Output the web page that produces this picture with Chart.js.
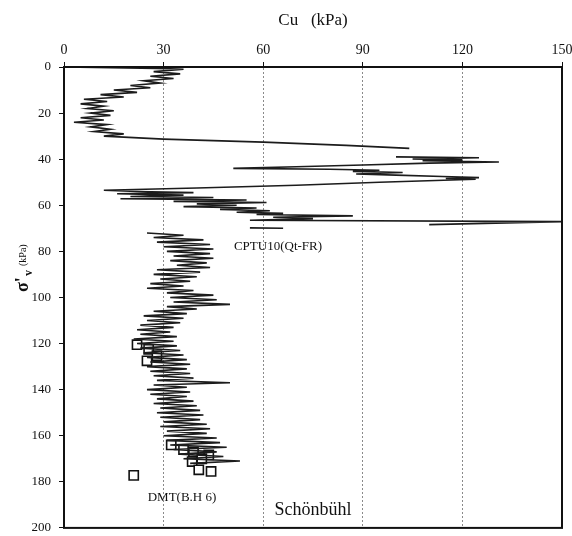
<!DOCTYPE html>
<html>
<head>
<meta charset="utf-8">
<script src="https://cdn.jsdelivr.net/npm/chart.js@4"></script>
<style>
  html, body { margin: 0; padding: 0; background: #fff; }
</style>
</head>
<body>
<canvas id="cuChart" width="572" height="536"></canvas>
<script>
const cuTicks = [0, 30, 60, 90, 120, 150];
const stressTicks = [0, 20, 40, 60, 80, 100, 120, 140, 160, 180, 200];

// CPTU10 (Qt-FR) trace; null breaks the line
const cptuDepth = [
  0, 0.6, 1, 2, 3, 4, 5, 6, 7, 8, 9, 10, 11, 12, 13, 14, 15, 16, 17, 18, 19, 20,
  21, 22, 23, 24, 25, 26, 27, 28, 29, 30, 31.3, 32.6, 34, 35.3, null,
  39, 39.4, 39.9, 40.3, 40.7, 41.2, 41.7, 42.5, 43.3, 44, 44.4, 44.8, 45.3, 45.8,
  46.4, 46.9, 47.5, 48, 48.4, 48.7, 50, 51.3, 52.5, 53.5, 54, 54.5, 55, 55.6, 56.2,
  56.6, 57.2, 57.7, 58.3, 58.8, 59.4, 60, 60.6, 61.2, 61.8, 62.4, 63, 63.5, 64, 64.6,
  65.2, 65.8, 66.5, 67.1, 68.4, null,
  69.8, 70, null,
  72, 73, 74, 75, 76, 77, 78, 79, 80, 81, 82, 83, 84, 85, 86, 87, 88, 89, 90, 91,
  92, 93, 94, 95, 96, 97, 98, 99, 100, 101, 102, 103, 104, 105, 106, 107, 108, 109,
  110, 111, 112, 113, 114, 115, 116, 117, 118, 119, 120, 121, 122, 123, 124, 125,
  126, 127, 128, 129, 130, 131, 132, 133, 134, 135, 136, 137, 138, 139, 140, 141,
  142, 143, 144, 145, 146, 147, 148, 149, 150, 151, 152, 153, 154, 155, 156, 157,
  158, 159, 160, 161, 162, 163, 164, 165, 166, 167, 168, 169, 170, 171, 172
];
const cptuCu = [
  0, 28, 36, 27, 35, 26, 33, 24, 29, 20, 26, 15, 22, 11, 18, 6, 13, 5, 12, 7, 15, 8,
  14, 5, 12, 3, 13, 8, 14, 9, 18, 12, 30, 60, 85, 104, null,
  100, 125, 105, 120, 108, 131, 110, 90, 70, 51, 80, 95, 87, 102,
  88, 100, 114, 125, 115, 124, 95, 70, 40, 12, 22, 39, 16, 36, 20,
  45, 17, 55, 33, 61, 40, 52, 36, 58, 47, 62, 52, 66, 58, 87,
  63, 75, 56, 150, 110, null,
  56, 66, null,
  25, 36, 27, 42, 28, 44, 30, 45, 31, 44, 33, 45, 32, 43, 34, 44, 28, 41, 27, 40,
  29, 38, 26, 36, 25, 39, 31, 45, 32, 46, 33, 50, 31, 40, 27, 37, 24, 36,
  25, 35, 23, 33, 22, 32, 23, 34, 21, 33, 22, 34, 23, 35, 24, 36,
  25, 37, 26, 38, 25, 37, 26, 38, 27, 39, 28, 50, 27, 37, 25, 38,
  26, 37, 28, 39, 27, 40, 29, 41, 28, 42, 29, 41, 30, 43, 29, 44,
  31, 43, 30, 46, 31, 47, 32, 49, 33, 46, 35, 48, 36, 53, 38
];

// DMT (B.H 6) points
const dmtDepth = [120.5, 122.5, 125.3, 127.5, 164, 166, 167, 168.3, 170, 171.2, 174.8, 175.5, 177.2];
const dmtCu = [22, 25.5, 28, 25, 32.3, 36, 39, 43.6, 41.5, 38.6, 40.6, 44.3, 21];

const serif = "'Liberation Serif', 'DejaVu Serif', serif";

const framePlugin = {
  id: "frameAndLabels",
  afterDraw(chart) {
    const { ctx, chartArea: a } = chart;
    ctx.save();
    ctx.strokeStyle = "#111";
    ctx.lineWidth = 2;
    ctx.strokeRect(a.left, a.top, a.right - a.left, a.bottom - a.top);

    ctx.fillStyle = "#111";
    ctx.textBaseline = "middle";
    ctx.textAlign = "center";
    ctx.font = "17px " + serif;
    ctx.fillText("Cu   (kPa)", 313, 21);

    ctx.font = "13px " + serif;
    ctx.fillText("CPTU10(Qt-FR)", 278, 247);
    ctx.fillText("DMT(B.H 6)", 182, 498);
    ctx.font = "18px " + serif;
    ctx.fillText("Schönbühl", 313, 510);

    // rotated y title: σ'v (kPa)
    ctx.translate(22, 270);
    ctx.rotate(-Math.PI / 2);
    ctx.textAlign = "left";
    ctx.textBaseline = "alphabetic";
    ctx.font = "bold 18px " + serif;
    ctx.fillText("σ'", -22, 6);
    ctx.font = "bold 12px " + serif;
    ctx.fillText("v", -6, 10);
    ctx.font = "10px " + serif;
    ctx.fillText("(kPa)", 4, 4);
    ctx.restore();
  }
};

new Chart(document.getElementById("cuChart"), {
  type: "scatter",
  data: {
    datasets: [
      {
        label: "CPTU10(Qt-FR)",
        data: cptuDepth.map((d, i) => ({ x: cptuCu[i], y: d })),
        showLine: true,
        spanGaps: false,
        borderColor: "#1c1c1c",
        borderWidth: 1.6,
        pointRadius: 0,
        tension: 0
      },
      {
        label: "DMT(B.H 6)",
        data: dmtDepth.map((d, i) => ({ x: dmtCu[i], y: d })),
        showLine: false,
        pointStyle: "rect",
        pointRadius: 6.5,
        pointBorderWidth: 1.6,
        pointBackgroundColor: "#fff",
        pointBorderColor: "#111"
      }
    ]
  },
  options: {
    responsive: false,
    animation: false,
    layout: { padding: { left: 0, top: 0, right: 10, bottom: 6 } },
    plugins: {
      legend: { display: false },
      tooltip: { enabled: false }
    },
    scales: {
      x: {
        type: "linear",
        position: "top",
        min: 0,
        max: 150,
        afterBuildTicks: (s) => { s.ticks = cuTicks.map(v => ({ value: v })); },
        afterFit: (s) => { s.height = 67; s.paddingLeft = 0; s.paddingRight = 0; },
        ticks: { color: "#111", font: { family: serif, size: 14 }, padding: 3 },
        grid: {
          color: (c) => (c.tick && (c.tick.value === 0 || c.tick.value === 150)) ? "rgba(0,0,0,0)" : "#8a8a8a",
          lineWidth: 1,
          tickColor: "#111",
          tickLength: 5,
          tickBorderDash: []
        },
        border: { display: true, color: "#111", width: 2, dash: [2, 2] }
      },
      y: {
        type: "linear",
        reverse: true,
        min: 0,
        max: 200,
        afterBuildTicks: (s) => { s.ticks = stressTicks.map(v => ({ value: v })); },
        afterFit: (s) => { s.width = 64; s.paddingTop = 0; s.paddingBottom = 0; },
        ticks: { color: "#111", font: { family: serif, size: 13 }, padding: 8 },
        grid: { drawOnChartArea: false, tickColor: "#111", tickLength: 5 },
        border: { display: true, color: "#111", width: 2 }
      }
    }
  },
  plugins: [framePlugin]
});
</script>
</body>
</html>
